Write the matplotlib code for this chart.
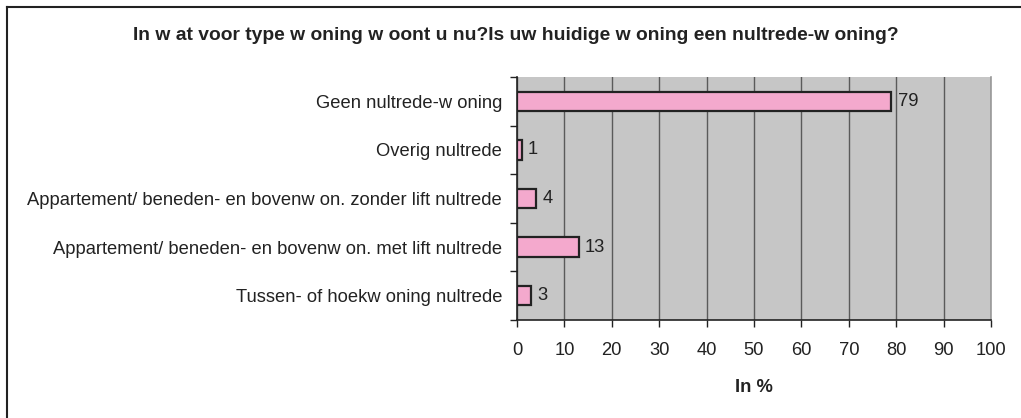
import matplotlib.pyplot as plt
from matplotlib.lines import Line2D

categories = [
    "Geen nultrede-w oning",
    "Overig nultrede",
    "Appartement/ beneden- en bovenw on. zonder lift nultrede",
    "Appartement/ beneden- en bovenw on. met lift nultrede",
    "Tussen- of hoekw oning nultrede",
]
values = [79, 1, 4, 13, 3]
x_ticks = list(range(0, 101, 10))

TITLE = "In w at voor type w oning w oont u nu?Is uw huidige w oning een nultrede-w oning?"
XLABEL = "In %"

plt.rcParams['font.family'] = ['Liberation Sans', 'DejaVu Sans']

W, H = 1021, 418
FS = 13.2
fig = plt.figure(figsize=(W / 100, H / 100), dpi=100)
ax = fig.add_axes([517 / W, 1 - 320 / H, (991 - 517) / W, (320 - 77) / H])

pos = list(range(len(categories)))
ax.barh(pos, values, height=0.4, color='#F4A9CD', edgecolor='#222222', linewidth=1.6, zorder=3)
for p, v in zip(pos, values):
    ax.annotate(str(v), (v, p), xytext=(4.5, 0), textcoords='offset points',
                va='center', ha='left', fontsize=FS, color='#222222')

ax.set_facecolor('#C6C6C6')
ax.set_xlim(0, 100)
ax.set_ylim(len(categories) - 0.5, -0.5)
ax.set_xticks(x_ticks)
ax.set_xticklabels([str(t) for t in x_ticks], fontsize=FS, color='#222222')
ax.set_yticks(pos)
ax.set_yticklabels(categories, fontsize=FS, color='#222222')
ax.tick_params(axis='y', length=0, pad=10.8)
ax.set_yticks([p + 0.5 for p in range(-1, len(categories))], minor=True)
ax.tick_params(axis='y', which='minor', length=5, width=1, color='#222222', direction='out')
ax.tick_params(axis='x', length=5, width=1, color='#222222', direction='out', pad=11)
ax.grid(True, axis='x', color='#5a5a5a', linewidth=1, zorder=1)
ax.set_axisbelow(True)
ax.spines['top'].set_visible(False)
ax.spines['right'].set_color('#9a9a9a')
ax.spines['right'].set_linewidth(1.2)
for s in ['left', 'bottom']:
    ax.spines[s].set_color('#222222')
    ax.spines[s].set_linewidth(1.2)

fig.text((137 + 895) / 2 / W, 1 - 36 / H, TITLE, ha='center', va='center', fontsize=13.9,
         fontweight='bold', color='#222222')
fig.text((517 + 991) / 2 / W, 1 - 388 / H, XLABEL, ha='center', va='center', fontsize=FS,
         fontweight='bold', color='#222222')

# frame lines (left and top edge of the chart area)
fig.add_artist(Line2D([7 / W, 7 / W], [0, 1 - 7 / H], transform=fig.transFigure, color='#222222', lw=1.5))
fig.add_artist(Line2D([7 / W, 1], [1 - 7 / H, 1 - 7 / H], transform=fig.transFigure, color='#222222', lw=1.5))

fig.savefig('out.png', dpi=100)
